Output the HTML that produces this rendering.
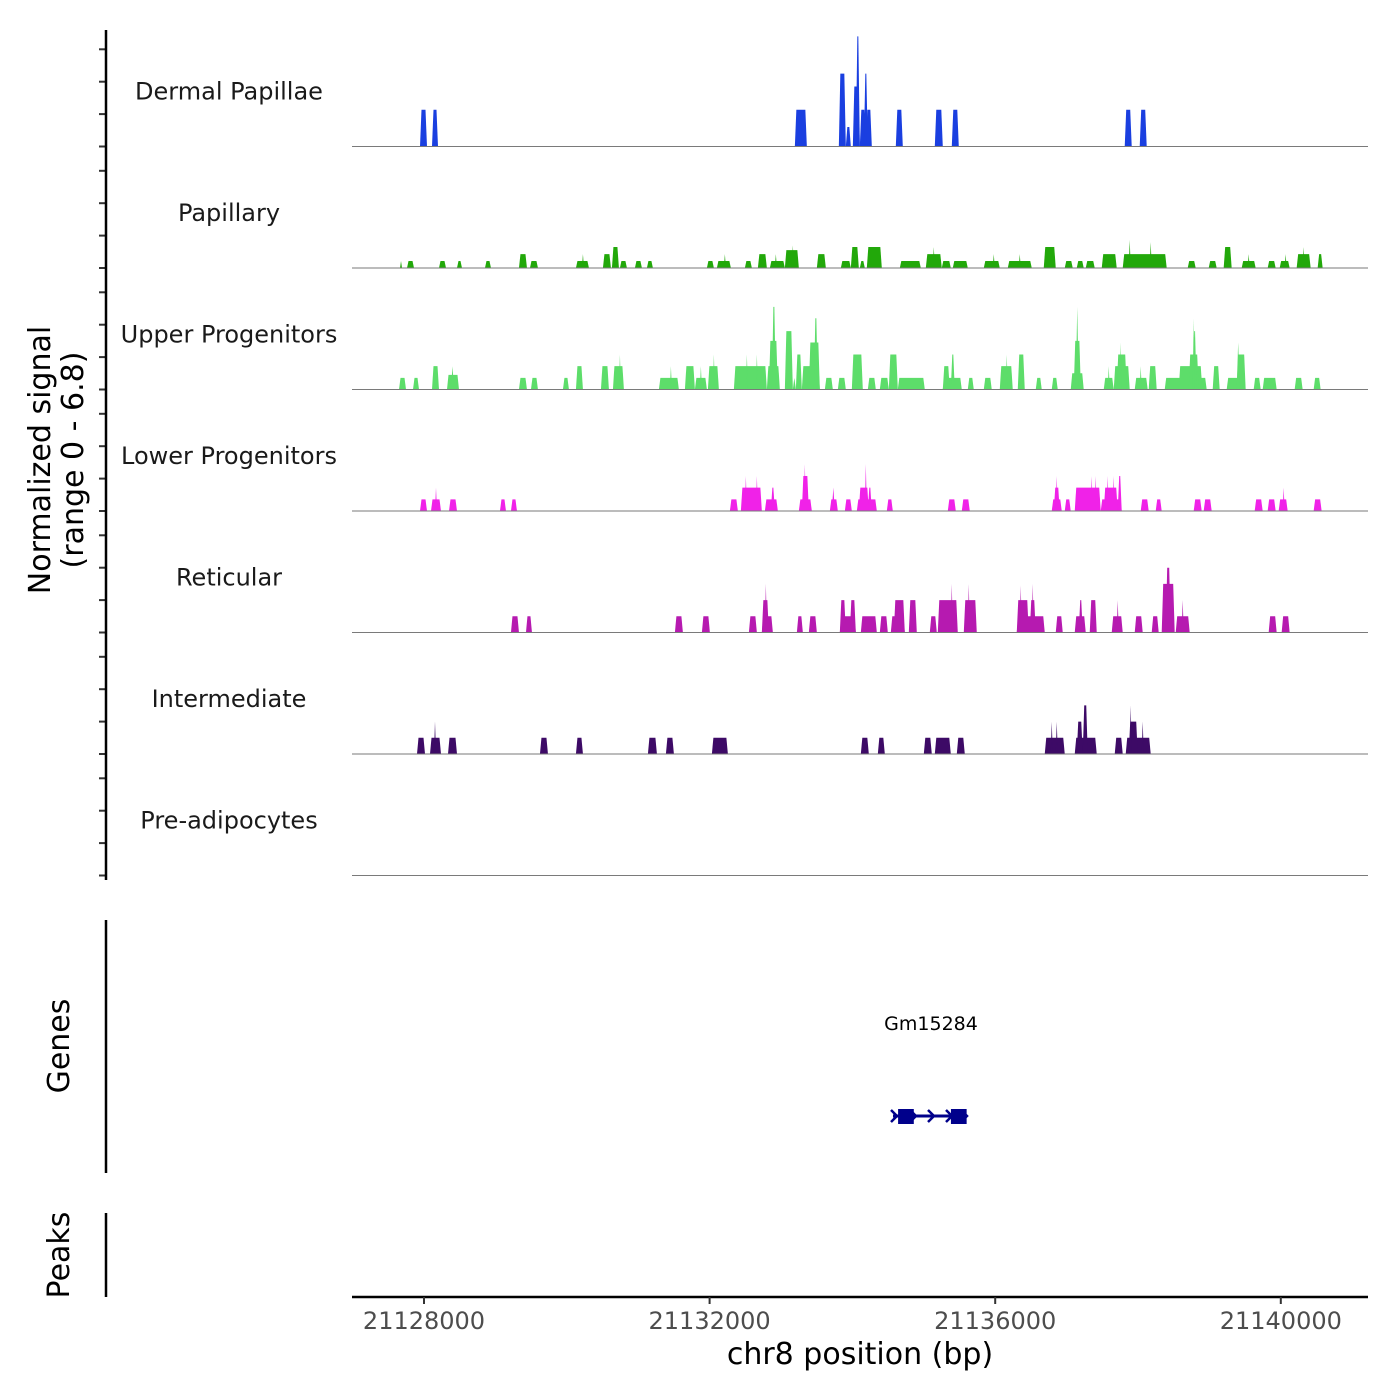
<!DOCTYPE html>
<html><head><meta charset="utf-8"><style>
html,body{margin:0;padding:0;background:#fff;}
svg{display:block;font-family:"DejaVu Sans","Liberation Sans",sans-serif;}
</style></head><body>
<svg id="chart" width="1400" height="1400" viewBox="0 0 1400 1400" xmlns="http://www.w3.org/2000/svg">
<g id="tracks"></g>
<g id="axes"></g>
</svg>
<script>
const trackNames = ["Dermal Papillae","Papillary","Upper Progenitors","Lower Progenitors","Reticular","Intermediate","Pre-adipocytes"];
const trackColors = ["#1a3fe0","#22a80a","#5ddd6a","#f022e8","#b61ab0","#3d0a66","#888888"];
const xTicks = [21128000,21132000,21136000,21140000];
const yTickValues = [0,2,4,6];
const dermalPeaks = [[21127944,21128042,2.27],[21128112,21128196,2.27],[21133194,21133362,2.27],[21133810,21133908,4.5],[21133908,21133978,1.2],[21134006,21134104,3.7],[21134048,21134104,6.8],[21134104,21134188,2.27],[21134160,21134216,4.5],[21134188,21134272,2.27],[21134608,21134706,2.27],[21135154,21135266,2.27],[21135392,21135490,2.27],[21137814,21137912,2.27],[21138024,21138122,2.27]];
const papillaryPeaks = [[21127664,21127692,0.43],[21127762,21127860,0.43],[21128210,21128308,0.43],[21128462,21128532,0.43],[21128854,21128938,0.43],[21129330,21129442,0.86],[21129484,21129596,0.43],[21130128,21130310,0.43],[21130212,21130240,0.86],[21130506,21130618,0.86],[21130632,21130730,1.3],[21130744,21130842,0.43],[21130954,21131052,0.43],[21131122,21131206,0.43],[21131962,21132060,0.43],[21132102,21132298,0.43],[21132200,21132228,0.86],[21132494,21132592,0.43],[21132676,21132802,0.86],[21132844,21133054,0.43],[21132914,21132942,0.86],[21133054,21133250,1.1],[21133152,21133180,1.4],[21133502,21133628,0.86],[21133838,21133978,0.43],[21133978,21134090,1.3],[21134104,21134174,0.43],[21134202,21134412,1.3],[21134664,21134958,0.43],[21135028,21135252,0.86],[21135126,21135154,1.3],[21135252,21135378,0.43],[21135406,21135616,0.43],[21135840,21136064,0.43],[21135966,21135994,0.86],[21136176,21136512,0.43],[21136330,21136358,0.86],[21136680,21136848,1.3],[21136974,21137086,0.43],[21137142,21137240,0.43],[21137268,21137394,0.43],[21137492,21137702,0.86],[21137786,21138402,0.86],[21137870,21137898,1.73],[21138164,21138192,1.6],[21138696,21138808,0.43],[21138990,21139102,0.43],[21139200,21139312,1.3],[21139452,21139648,0.43],[21139536,21139564,0.86],[21139816,21139928,0.43],[21139984,21140124,0.43],[21140054,21140082,0.86],[21140222,21140418,0.86],[21140306,21140334,1.3],[21140516,21140586,0.86]];
const upperPeaks = [[21127650,21127748,0.72],[21127846,21127930,0.72],[21128112,21128210,1.44],[21128322,21128490,0.9],[21128378,21128420,1.44],[21129330,21129442,0.72],[21129498,21129596,0.72],[21129946,21130030,0.72],[21130128,21130226,1.44],[21130478,21130590,1.44],[21130646,21130800,1.44],[21130730,21130758,2.16],[21131290,21131570,0.72],[21131444,21131472,1.44],[21131654,21131794,1.44],[21131794,21131962,0.72],[21131864,21131892,1.44],[21131976,21132130,1.44],[21132046,21132074,2.16],[21132340,21132802,1.44],[21132508,21132536,2.16],[21132648,21132676,2.16],[21132802,21132984,1.44],[21132830,21132956,3.0],[21132872,21132928,5.1],[21133054,21133166,3.6],[21133166,21133208,0.72],[21133208,21133292,2.16],[21133292,21133544,1.44],[21133390,21133544,2.9],[21133460,21133516,4.4],[21133614,21133726,0.72],[21133796,21133908,0.72],[21133992,21134146,2.16],[21134216,21134328,0.72],[21134384,21134510,0.72],[21134510,21134636,2.16],[21134636,21135014,0.72],[21135266,21135532,0.72],[21135266,21135364,1.44],[21135378,21135434,2.16],[21135616,21135700,0.72],[21135840,21135952,0.72],[21136064,21136246,1.44],[21136148,21136176,2.16],[21136316,21136414,2.16],[21136568,21136652,0.72],[21136792,21136876,0.72],[21137058,21137240,1.0],[21137100,21137200,3.0],[21137128,21137170,5.1],[21137520,21137660,0.72],[21137576,21137604,1.44],[21137660,21137884,1.44],[21137702,21137842,2.16],[21137744,21137772,2.9],[21137954,21138136,0.72],[21138024,21138052,1.44],[21138150,21138262,1.44],[21138374,21138962,0.72],[21138570,21138900,1.44],[21138710,21138850,2.16],[21138766,21138820,3.6],[21138766,21138794,4.4],[21139046,21139144,1.44],[21139242,21139508,0.72],[21139382,21139508,2.16],[21139382,21139424,2.9],[21139620,21139718,0.72],[21139746,21139942,0.72],[21140194,21140306,0.72],[21140460,21140558,0.72]];
const lowerPeaks = [[21127944,21128042,0.72],[21128098,21128238,0.72],[21128154,21128182,1.44],[21128350,21128462,0.72],[21129064,21129148,0.72],[21129218,21129302,0.72],[21132284,21132396,0.72],[21132438,21132732,1.44],[21132494,21132522,2.16],[21132648,21132676,2.16],[21132774,21132956,0.72],[21132858,21132914,1.44],[21133250,21133432,0.72],[21133292,21133390,2.16],[21133320,21133348,2.9],[21133684,21133796,0.72],[21133712,21133754,1.44],[21133894,21133992,0.72],[21134062,21134342,0.72],[21134090,21134230,1.44],[21134174,21134202,2.9],[21134216,21134272,1.44],[21134482,21134566,0.72],[21135336,21135448,0.72],[21135532,21135644,0.72],[21136792,21136932,0.72],[21136820,21136904,1.44],[21136848,21136876,2.16],[21136974,21137058,0.72],[21137114,21137478,1.44],[21137338,21137366,2.16],[21137394,21137422,2.16],[21137478,21137772,0.72],[21137520,21137716,1.44],[21137562,21137590,2.16],[21137646,21137674,2.16],[21137716,21137772,2.16],[21138038,21138150,0.72],[21138248,21138332,0.72],[21138780,21138892,0.72],[21138920,21139032,0.72],[21139634,21139746,0.72],[21139816,21139928,0.72],[21139970,21140096,0.72],[21140026,21140054,1.44],[21140460,21140572,0.72]];
const reticularPeaks = [[21129218,21129330,1.0],[21129428,21129512,1.0],[21131514,21131626,1.0],[21131892,21132004,1.0],[21132550,21132662,1.0],[21132732,21132886,1.0],[21132732,21132830,2.0],[21132774,21132802,3.0],[21133222,21133306,1.0],[21133390,21133502,1.0],[21133824,21134048,1.0],[21133824,21133908,2.0],[21133964,21134048,2.0],[21134118,21134342,1.0],[21134384,21134496,1.0],[21134538,21134734,1.0],[21134580,21134734,2.0],[21134790,21134902,2.0],[21135084,21135182,1.0],[21135196,21135476,2.0],[21135378,21135406,3.0],[21135560,21135742,2.0],[21135616,21135644,3.0],[21136302,21136694,1.0],[21136302,21136470,2.0],[21136344,21136372,2.9],[21136484,21136568,2.0],[21136512,21136540,3.0],[21136848,21136946,1.0],[21137114,21137268,1.0],[21137170,21137226,2.0],[21137324,21137422,2.0],[21137632,21137786,1.0],[21137702,21137730,2.0],[21137954,21138066,1.0],[21138192,21138290,1.0],[21138332,21138514,3.0],[21138388,21138458,4.0],[21138528,21138724,1.0],[21138612,21138640,2.0],[21139830,21139942,1.0],[21140012,21140124,1.0]];
const intermediatePeaks = [[21127902,21128014,1.0],[21128084,21128238,1.0],[21128140,21128168,2.0],[21128336,21128462,1.0],[21129624,21129736,1.0],[21130128,21130226,1.0],[21131136,21131262,1.0],[21131388,21131500,1.0],[21132032,21132256,1.0],[21134118,21134230,1.0],[21134356,21134454,1.0],[21135000,21135112,1.0],[21135154,21135378,1.0],[21135462,21135574,1.0],[21136694,21136974,1.0],[21136778,21136806,2.0],[21136848,21136876,2.0],[21137114,21137422,1.0],[21137142,21137226,2.0],[21137226,21137296,3.0],[21137674,21137786,1.0],[21137828,21138178,1.0],[21137870,21137996,2.0],[21137884,21137912,3.0],[21138052,21138080,2.0]];
const preadipocytePeaks = [];
const geneExons = [[21134640,21134860],[21135380,21135600]];

const trackData = [dermalPeaks,papillaryPeaks,upperPeaks,lowerPeaks,reticularPeaks,intermediatePeaks,preadipocytePeaks];
const NS="http://www.w3.org/2000/svg";
const X0=352,X1=1368,XREF=424,BPREF=21128000,PXPERBP=285.6/4000;
function xScale(bp){return XREF+(bp-BPREF)*PXPERBP;}
const TRACK_TOP=25,TRACK_H=121.5,PX_PER_UNIT=16.2;
function baseY(i){return TRACK_TOP+TRACK_H*(i+1);}
function yScale(i,v){return baseY(i)-v*PX_PER_UNIT;}
function mk(tag,attrs,parent){const e=document.createElementNS(NS,tag);for(const k in attrs)e.setAttribute(k,attrs[k]);parent.appendChild(e);return e;}
const gT=document.getElementById('tracks'),gA=document.getElementById('axes');

trackData.forEach((peaks,i)=>{
  const g=mk('g',{},gT);
  
  
  peaks.forEach(p=>{
    const x0=xScale(p[0]),x1=xScale(p[1]),b=baseY(i),t=yScale(i,p[2]);
    const s=Math.min(1.5,(x1-x0)/2);
    const poly=mk('polygon',{points:`${x0},${b} ${x0+s},${t} ${x1-s},${t} ${x1},${b}`,fill:trackColors[i]},g);
    
    
  });
  const bl=mk('line',{x1:X0,x2:X1,y1:baseY(i),y2:baseY(i),stroke:'#7a7a7a','stroke-width':1},g);
  
  
  const lb=mk('text',{x:229,y:baseY(i)-47,'text-anchor':'middle','font-size':24,fill:'#1a1a1a'},g);
  lb.textContent=trackNames[i];
  
  
  yTickValues.forEach(v=>{
    const tk=mk('line',{x1:99,x2:106,y1:yScale(i,v),y2:yScale(i,v),stroke:'#333','stroke-width':2},gA);
    
    
  });
});
[[30,880],[920,1173],[1213,1297]].forEach(r=>{
  const l=mk('line',{x1:106,x2:106,y1:r[0],y2:r[1],stroke:'#000','stroke-width':2.5},gA);
  
  
});
const yt=mk('text',{transform:'translate(52,460) rotate(-90)','text-anchor':'middle','font-size':30,fill:'#000'},gA);


yt.innerHTML='<tspan x="0" dy="-2">Normalized signal</tspan><tspan x="0" dy="33">(range 0 - 6.8)</tspan>';
[['Genes',1046],['Peaks',1255]].forEach(a=>{
  const t=mk('text',{transform:`translate(69,${a[1]}) rotate(-90)`,'text-anchor':'middle','font-size':30,fill:'#000'},gA);
  t.textContent=a[0];
  
  
});
const gg=mk('g',{},gA);


const gl=mk('text',{x:931,y:1030,'text-anchor':'middle','font-size':19,fill:'#000'},gg);
gl.textContent='Gm15284';


mk('line',{x1:893,x2:966,y1:1116,y2:1116,stroke:'#00008b','stroke-width':3},gg);
geneExons.forEach(e=>{
  const r=mk('rect',{x:xScale(e[0]),y:1109,width:xScale(e[1])-xScale(e[0]),height:15,fill:'#00008b'},gg);
  
  
});
[894,913,931,949,964].forEach(ax=>{
  mk('polyline',{points:`${ax-3},${1110} ${ax+3},1116 ${ax-3},1122`,fill:'none',stroke:'#00008b','stroke-width':2.5},gg);
});
const xl=mk('line',{x1:X0,x2:X1,y1:1297,y2:1297,stroke:'#000','stroke-width':2.5},gA);


xTicks.forEach(v=>{
  const x=xScale(v);
  const t=mk('line',{x1:x,x2:x,y1:1297,y2:1304,stroke:'#333','stroke-width':2},gA);
  
  
  const tl=mk('text',{x:x,y:1329,'text-anchor':'middle','font-size':24,fill:'#4d4d4d'},gA);
  tl.textContent=v;
  
  
});
const xt=mk('text',{x:860,y:1364,'text-anchor':'middle','font-size':30,fill:'#000'},gA);
xt.textContent='chr8 position (bp)';


</script>
</body></html>
